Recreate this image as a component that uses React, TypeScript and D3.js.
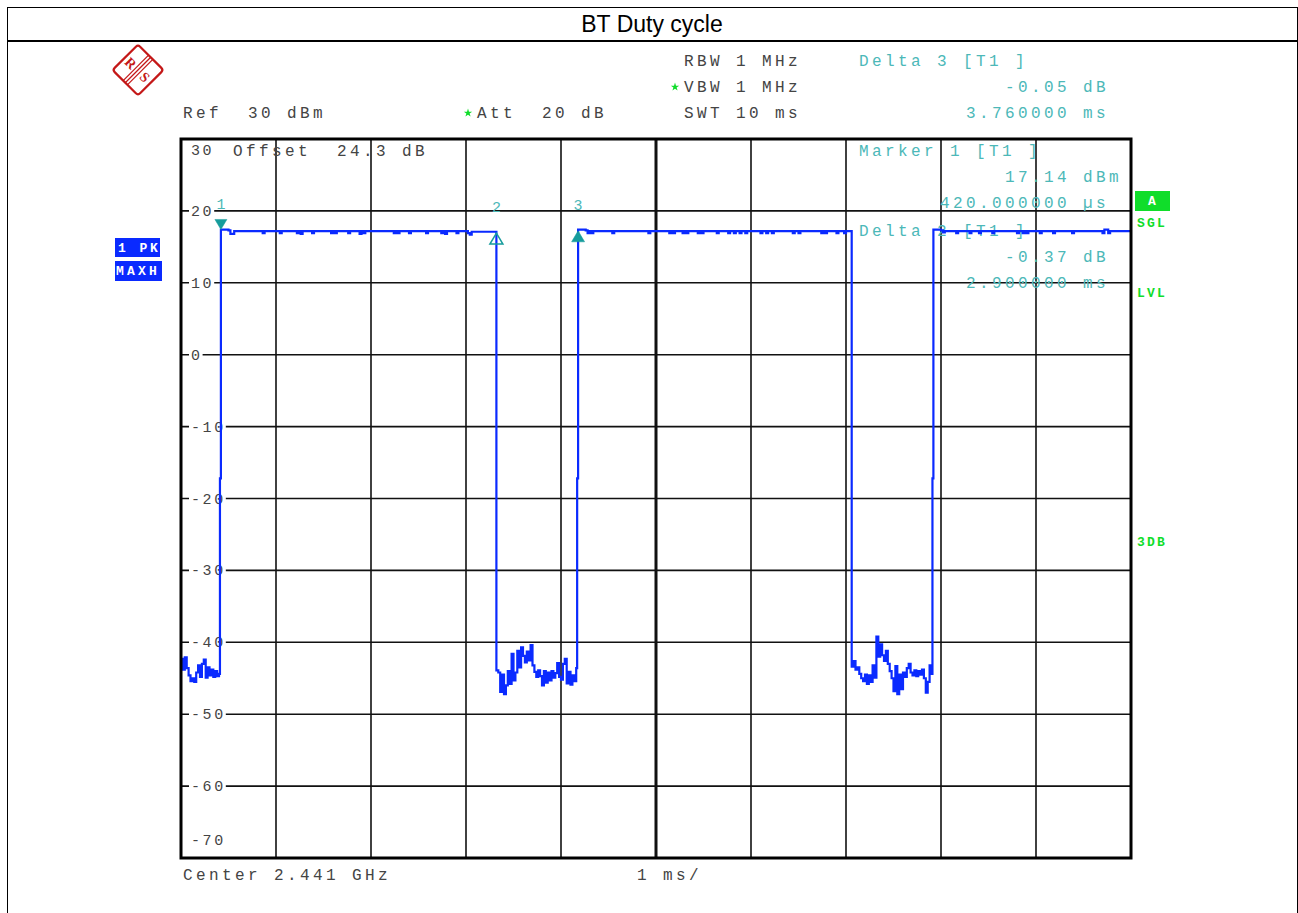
import React from 'react';
import * as d3 from 'd3';

// sweep: 0..10 ms, 1 ms/div ; level axis: -70..30 dBm
const timeDivisions = [0, 1, 2, 3, 4, 5, 6, 7, 8, 9, 10];
const levelLines = [30, 20, 10, 0, -10, -20, -30, -40, -50, -60, -70];
const levelLabels = ['30', '20', '10', '0', '-10', '-20', '-30', '-40', '-50', '-60', '-70'];

// trace: [time ms, level dBm]
const gap1: [number, number][] = [
  [0.0, -42.3], [0.02, -43.8], [0.04, -42.1], [0.06, -43.6], [0.08, -44.6], [0.1, -45.4],
  [0.12, -45.0], [0.14, -45.5], [0.16, -44.2], [0.18, -43.2], [0.2, -44.8], [0.22, -43.0],
  [0.24, -42.4], [0.26, -44.9], [0.28, -43.5], [0.3, -44.6], [0.32, -43.8], [0.34, -44.8],
  [0.36, -44.0], [0.38, -44.7], [0.4, -44.4], [0.41, -17.2],
];
const burst1: [number, number][] = [
  [0.42, 17.4], [0.5, 17.3], [0.52, 16.8], [0.56, 17.2], [0.86, 16.9], [0.88, 17.2],
  [1.04, 16.9], [1.06, 17.2], [1.22, 16.9], [1.24, 17.2], [1.26, 16.8], [1.28, 17.2],
  [1.38, 16.9], [1.4, 17.2], [1.58, 16.9], [1.6, 17.2], [1.62, 16.9], [1.64, 17.2],
  [1.76, 16.9], [1.78, 17.2], [1.88, 16.8], [1.9, 17.2], [1.92, 16.9], [1.94, 17.2],
  [2.24, 16.9], [2.26, 17.2], [2.28, 16.9], [2.3, 17.2], [2.4, 16.9], [2.42, 17.2],
  [2.58, 16.9], [2.6, 17.2], [2.74, 16.9], [2.76, 17.2], [2.78, 16.8], [2.8, 17.2],
  [2.9, 16.9], [2.92, 17.2], [3.02, 16.9], [3.04, 16.7], [3.06, 17.1], [3.3, 17.1],
];
const gap2: [number, number][] = [
  [3.32, -43.9], [3.34, -44.2], [3.36, -46.9], [3.38, -44.5], [3.4, -47.2], [3.42, -46.0],
  [3.44, -44.0], [3.46, -45.8], [3.48, -41.6], [3.5, -45.3], [3.52, -44.2], [3.54, -41.2],
  [3.56, -43.5], [3.58, -40.7], [3.6, -41.9], [3.62, -42.8], [3.64, -41.3], [3.66, -42.5],
  [3.68, -40.4], [3.7, -43.2], [3.72, -44.1], [3.74, -44.8], [3.76, -43.9], [3.78, -44.7],
  [3.8, -46.0], [3.82, -44.0], [3.84, -45.6], [3.86, -44.2], [3.88, -45.3], [3.9, -44.0],
  [3.92, -44.9], [3.94, -44.3], [3.96, -42.9], [3.98, -44.8], [4.0, -45.2], [4.02, -43.0],
  [4.04, -42.3], [4.06, -45.7], [4.08, -44.1], [4.1, -45.9], [4.12, -44.6], [4.14, -45.4],
  [4.16, -43.6], [4.17, -17.2],
];
const burst2: [number, number][] = [
  [4.18, 17.4], [4.26, 17.3], [4.28, 16.9], [4.3, 17.2], [4.32, 16.9], [4.34, 17.2],
  [4.54, 16.9], [4.56, 17.2], [4.92, 16.9], [4.94, 17.2], [5.14, 16.9], [5.16, 17.2],
  [5.18, 16.9], [5.2, 17.2], [5.28, 16.9], [5.3, 17.2], [5.32, 16.9], [5.34, 17.2],
  [5.44, 16.9], [5.46, 17.2], [5.48, 16.9], [5.5, 17.2], [5.64, 16.9], [5.66, 17.2],
  [5.76, 16.9], [5.78, 17.2], [5.82, 16.9], [5.84, 17.2], [5.88, 16.9], [5.9, 17.2],
  [5.94, 16.9], [5.96, 17.2], [6.1, 16.9], [6.12, 17.2], [6.16, 16.9], [6.18, 17.2],
  [6.22, 16.9], [6.24, 17.2], [6.44, 16.9], [6.46, 17.2], [6.5, 16.9], [6.52, 17.2],
  [6.74, 16.9], [6.76, 17.2], [6.78, 16.9], [6.8, 17.2], [6.9, 16.9], [6.92, 17.2],
  [6.98, 16.9], [7.0, 17.2], [7.04, 17.2],
];
const gap3: [number, number][] = [
  [7.06, -43.4], [7.08, -42.6], [7.1, -43.8], [7.12, -43.5], [7.14, -44.4], [7.16, -45.0],
  [7.18, -45.4], [7.2, -44.5], [7.22, -45.8], [7.24, -44.6], [7.26, -45.5], [7.28, -43.2],
  [7.3, -44.9], [7.32, -39.2], [7.34, -42.0], [7.36, -40.3], [7.38, -41.8], [7.4, -42.6],
  [7.42, -41.2], [7.44, -43.0], [7.46, -44.0], [7.48, -45.0], [7.5, -46.8], [7.52, -43.3],
  [7.54, -47.2], [7.56, -44.5], [7.58, -46.5], [7.6, -44.2], [7.62, -44.8], [7.64, -43.6],
  [7.66, -43.0], [7.68, -44.2], [7.7, -44.6], [7.72, -43.9], [7.74, -44.7], [7.76, -44.0],
  [7.78, -44.5], [7.8, -43.8], [7.82, -45.0], [7.84, -47.0], [7.86, -45.5], [7.88, -43.2],
  [7.9, -44.4], [7.91, -17.2],
];
const burst3: [number, number][] = [
  [7.92, 17.4], [8.0, 17.3], [8.02, 17.0], [8.04, 17.2], [8.16, 16.9], [8.18, 17.2],
  [8.3, 16.9], [8.32, 17.2], [8.4, 16.9], [8.42, 17.2], [8.54, 16.9], [8.56, 17.2],
  [8.8, 16.9], [8.82, 17.2], [8.86, 16.9], [8.88, 17.2], [8.9, 16.9], [8.92, 17.2],
  [9.04, 16.9], [9.06, 17.2], [9.18, 16.9], [9.2, 17.2], [9.38, 16.9], [9.4, 17.2],
  [9.7, 16.9], [9.72, 17.4], [9.76, 16.9], [9.78, 17.2], [10.0, 17.2],
];

const markers = [
  { id: '1', t: 0.42, level: 17.14, kind: 'down' },
  { id: '2', t: 3.32, level: 16.77, kind: 'delta' },
  { id: '3', t: 4.18, level: 17.09, kind: 'up' },
];

const headerLeft = ['Ref  30 dBm', 'Att  20 dB'];
const headerMid = ['RBW 1 MHz', 'VBW 1 MHz', 'SWT 10 ms'];
const delta3Info = ['Delta 3 [T1 ]', '-0.05 dB', '3.760000 ms'];
const marker1Info = ['Marker 1 [T1 ]', '17.14 dBm', '420.000000 µs'];
const delta2Info = ['Delta 2 [T1 ]', '-0.37 dB', '2.900000 ms'];
const footer = ['Center 2.441 GHz', '1 ms/'];

const TEAL = '#4cb8b8';
const TEAL_DARK = '#169c9c';
const BLUE = '#0a2aff';
const GREEN = '#10dd2a';
const INK = '#444';
const MONO = '"Liberation Mono", "DejaVu Sans Mono", monospace';

const x = d3.scaleLinear().domain([0, 10]).range([181, 1131]);
const y = d3.scaleLinear().domain([-70, 30]).range([858, 139]);

const trace = [...gap1, ...burst1, ...gap2, ...burst2, ...gap3, ...burst3];
const traceLine = d3
  .line<[number, number]>()
  .x(d => x(d[0]))
  .y(d => y(d[1]))
  .curve(d3.curveStepAfter);

const hdr: React.CSSProperties = { fontFamily: MONO, fontSize: 16, letterSpacing: '3.4px', whiteSpace: 'pre' };
const lbl: React.CSSProperties = { fontFamily: MONO, fontSize: 15, letterSpacing: '2.6px', whiteSpace: 'pre' };
const tag: React.CSSProperties = { fontFamily: MONO, fontSize: 13, fontWeight: 'bold', letterSpacing: '2.9px', whiteSpace: 'pre' };

const Star = ({ cx, cy }: { cx: number; cy: number }) => (
  <path d={d3.symbol(d3.symbolStar, 22)() || ''} transform={`translate(${cx},${cy})`} fill={GREEN} />
);

export default function App() {
  return (
    <svg width={1298} height={913} style={{ position: 'absolute', left: 0, top: 0, background: '#fff' }}>
      <defs>
        <clipPath id="plot">
          <rect x={181} y={139} width={950} height={719} />
        </clipPath>
        <clipPath id="pk">
          <rect x={115} y={238} width={45} height={19} />
        </clipPath>
      </defs>

      {/* page frame + title */}
      <rect x={7.5} y={7.5} width={1290} height={920} fill="none" stroke="#000" strokeWidth={1} />
      <line x1={7} x2={1298} y1={41} y2={41} stroke="#000" strokeWidth={2} />
      <text x={652} y={32} textAnchor="middle" style={{ fontFamily: '"Liberation Sans", Arial, sans-serif', fontSize: 23 }}>
        BT Duty cycle
      </text>

      {/* R&S logo */}
      <g transform="translate(138,70) rotate(45)" stroke="#c41818" fill="none">
        <rect x={-18} y={-18} width={36} height={36} rx={3} strokeWidth={2.2} />
        <line x1={-3} x2={-3} y1={-18} y2={18} strokeWidth={1.3} />
        <line x1={0} x2={0} y1={-18} y2={18} strokeWidth={1.3} />
        <line x1={3} x2={3} y1={-18} y2={18} strokeWidth={1.3} />
        <text x={-10} y={5} textAnchor="middle" fill="#c41818" stroke="none"
          style={{ fontFamily: '"Liberation Serif", serif', fontWeight: 'bold', fontSize: 14 }}>R</text>
        <text x={10} y={5} textAnchor="middle" fill="#c41818" stroke="none"
          style={{ fontFamily: '"Liberation Serif", serif', fontWeight: 'bold', fontSize: 14 }}>S</text>
      </g>

      {/* header settings */}
      <text x={684} y={66} fill={INK} style={hdr}>{headerMid[0]}</text>
      <Star cx={675} cy={87} />
      <text x={684} y={92} fill={INK} style={hdr}>{headerMid[1]}</text>
      <text x={684} y={118} fill={INK} style={hdr}>{headerMid[2]}</text>
      <text x={183} y={118} fill={INK} style={hdr}>{headerLeft[0]}</text>
      <Star cx={468} cy={113} />
      <text x={477} y={118} fill={INK} style={hdr}>{headerLeft[1]}</text>
      <text x={859} y={66} fill={TEAL} style={hdr}>{delta3Info[0]}</text>
      <text x={1005} y={92} fill={TEAL} style={hdr}>{delta3Info[1]}</text>
      <text x={966} y={118} fill={TEAL} style={hdr}>{delta3Info[2]}</text>

      {/* trace tags left */}
      <rect x={115} y={238} width={45} height={19} fill={BLUE} />
      <text x={118} y={252} fill="#fff" style={tag} clipPath="url(#pk)">1 PK</text>
      <rect x={115} y={261} width={47} height={20} fill={BLUE} />
      <text x={116} y={275} fill="#fff" style={{ ...tag, letterSpacing: '3.2px' }}>MAXH</text>

      {/* status tags right */}
      <rect x={1135} y={191} width={35} height={20} fill={GREEN} />
      <text x={1152} y={205} textAnchor="middle" fill="#fff" style={{ ...tag, letterSpacing: 0 }}>A</text>
      <text x={1137} y={227} fill={GREEN} style={{ ...tag, letterSpacing: '2.2px' }}>SGL</text>
      <text x={1137} y={297} fill={GREEN} style={{ ...tag, letterSpacing: '2.2px' }}>LVL</text>
      <text x={1137} y={546} fill={GREEN} style={{ ...tag, letterSpacing: '2.2px' }}>3DB</text>

      {/* grid */}
      <g stroke="#111">
        {timeDivisions.slice(1, -1).map(t => (
          <line key={'v' + t} x1={x(t)} x2={x(t)} y1={139} y2={858} strokeWidth={t === 5 ? 3 : 1.6} />
        ))}
        {levelLines.slice(1, -1).map(v => (
          <line key={'h' + v} x1={181} x2={1131} y1={y(v)} y2={y(v)} strokeWidth={1.6} />
        ))}
      </g>

      {/* level labels */}
      {levelLines.map((v, i) => {
        const label = levelLabels[i];
        const cy = i === 0 ? 150 : i === levelLines.length - 1 ? 840 : y(v);
        const w = label.length * 11.6 - 1;
        return (
          <g key={'l' + v}>
            <rect x={189} y={cy - 6} width={w + 3} height={12} fill="#fff" />
            <text x={191} y={cy + 5} fill={INK} style={lbl}>{label}</text>
          </g>
        );
      })}

      {/* texts inside the diagram */}
      <text x={233} y={156} fill={INK} style={hdr}>Offset  24.3 dB</text>
      <text x={859} y={156} fill={TEAL} style={hdr}>{marker1Info[0]}</text>
      <text x={1005} y={182} fill={TEAL} style={hdr}>{marker1Info[1]}</text>
      <text x={940} y={208} fill={TEAL} style={hdr}>{marker1Info[2]}</text>
      <text x={859} y={236} fill={TEAL} style={hdr}>{delta2Info[0]}</text>
      <text x={1005} y={262} fill={TEAL} style={hdr}>{delta2Info[1]}</text>
      <text x={966} y={288} fill={TEAL} style={hdr}>{delta2Info[2]}</text>

      {/* trace */}
      <path d={traceLine(trace) || ''} fill="none" stroke={BLUE} strokeWidth={2.2} clipPath="url(#plot)" />

      {/* markers */}
      {markers.map(m => {
        const mx = x(m.t);
        const my = y(m.level);
        const tri =
          m.kind === 'down'
            ? `M${mx - 6},${my - 12}L${mx + 6},${my - 12}L${mx},${my - 2}Z`
            : `M${mx},${my - 1}L${mx + 6.5},${my + 10}L${mx - 6.5},${my + 10}Z`;
        return (
          <g key={'m' + m.id}>
            <path d={tri} fill={m.kind === 'delta' ? 'none' : TEAL_DARK} stroke={TEAL_DARK} strokeWidth={m.kind === 'delta' ? 1.5 : 0.5} />
            <text x={mx} y={my - 22} textAnchor="middle" fill={TEAL} style={{ fontFamily: MONO, fontSize: 15 }}>{m.id}</text>
          </g>
        );
      })}

      {/* frame */}
      <rect x={181} y={139} width={950} height={719} fill="none" stroke="#000" strokeWidth={3} />

      {/* footer */}
      <text x={183} y={880} fill={INK} style={hdr}>{footer[0]}</text>
      <text x={637} y={880} fill={INK} style={hdr}>{footer[1]}</text>
    </svg>
  );
}
